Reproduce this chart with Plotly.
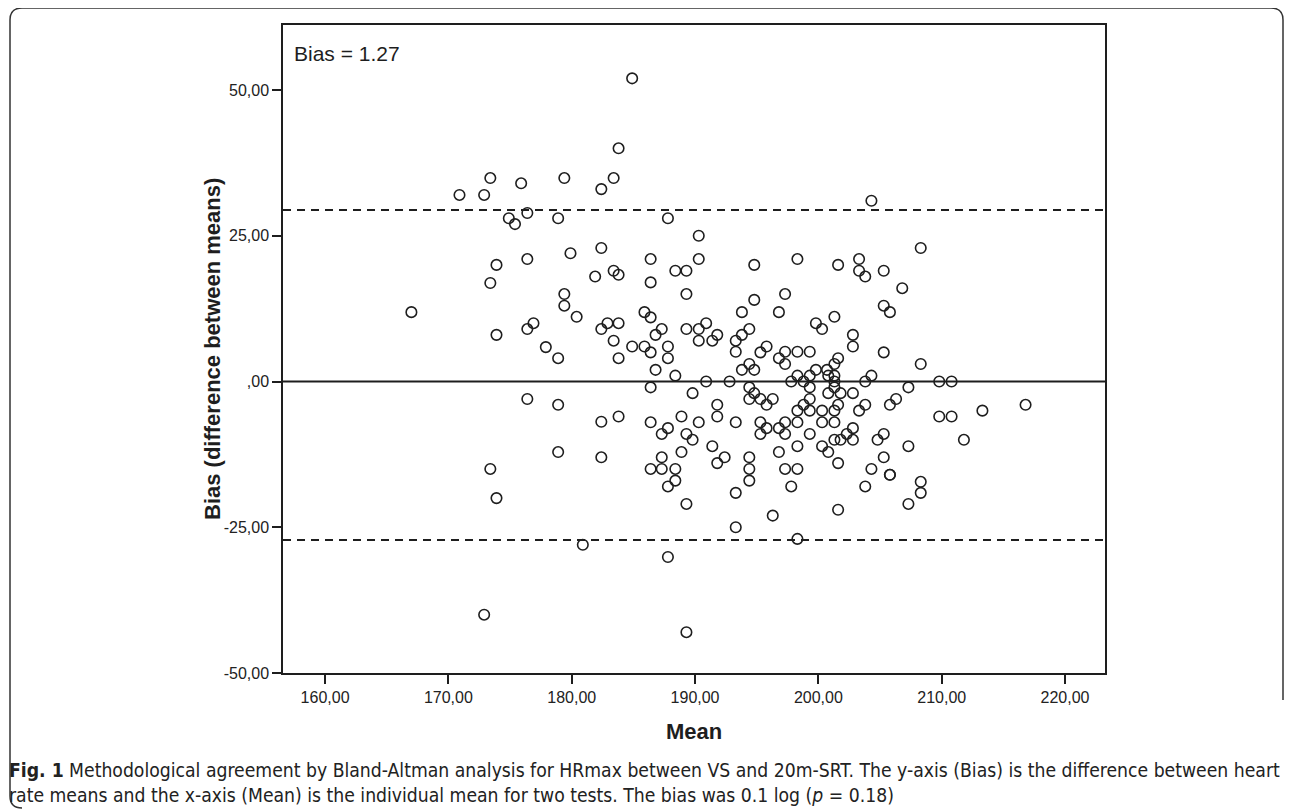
import plotly.graph_objects as go

# ---------------- data ----------------
mean_vals = [
    183.8, 173.4, 175.9, 179.4, 183.4, 182.4, 170.9, 172.9, 176.4, 174.9, 175.4, 178.9, 182.4, 179.9, 176.4, 173.9, 183.4, 181.9, 183.8,
    184.9, 187.8, 190.3, 186.4, 190.3, 194.8, 198.3, 201.6, 188.4, 189.3, 186.4,
    204.3, 208.3, 203.3, 203.3, 205.3, 203.8,
    173.4, 167.0, 179.4, 179.4, 180.4, 176.9, 176.4, 173.9, 177.9, 178.9, 182.4, 182.9, 183.8, 183.4, 183.8,
    176.4, 178.9, 182.4, 183.8, 178.9, 182.4, 173.4,
    173.9, 180.9, 172.9,
    187.8, 188.4, 189.3, 193.3, 194.4, 197.8, 196.3, 193.3, 198.3, 201.6, 187.8, 189.3,
    203.8, 205.8, 208.3, 208.3, 207.3,
    189.3, 194.8, 197.3, 185.9, 186.4, 193.8, 196.8, 199.8, 200.3, 201.3, 187.3, 186.8, 189.3, 190.9, 190.3,
    191.8, 190.3, 191.4, 194.4, 193.8, 193.3, 193.3, 184.9, 185.9, 186.4, 187.8, 187.8, 186.8, 188.4,
    195.8, 195.3, 196.8, 197.3, 197.3, 198.3, 199.3, 194.4, 193.8, 194.8, 198.3, 197.8, 198.8, 199.3,
    199.8, 200.7, 201.3, 201.6, 200.8, 201.3, 190.9, 192.8, 186.4, 189.8, 194.4, 194.8, 194.4, 195.3,
    196.3, 195.8, 199.3, 199.3, 198.8, 198.3, 199.3, 200.8, 200.3, 200.3, 201.3, 201.6, 191.8, 191.8,
    186.4, 188.9, 190.3, 193.3, 195.3, 195.8, 195.3, 196.8, 197.3, 197.3, 198.3, 199.3, 201.3, 187.3,
    187.8, 189.3, 189.8, 191.4, 188.9, 187.3, 192.4, 191.8, 194.4, 194.4, 196.8, 198.3, 200.3, 200.8,
    201.6, 186.4, 187.3, 188.4, 197.3, 198.3,
    206.8, 205.3, 205.8, 202.8, 202.8, 205.3, 208.3, 201.3, 204.3, 203.8, 209.8, 210.8, 207.3, 201.3,
    201.8, 202.8, 206.3, 205.8, 203.8, 203.3, 216.8, 213.3, 209.8, 210.8, 201.3, 202.8, 202.3, 201.8,
    202.8, 205.3, 204.8, 211.8, 207.3, 205.3, 204.3, 205.8,
]
diff_vals = [
    40.0, 34.9, 34.0, 34.9, 34.9, 33.0, 32.0, 32.0, 28.9, 28.0, 27.0, 28.0, 22.9, 22.0, 21.0, 20.0, 19.0, 18.0, 18.3,
    52.0, 28.0, 25.0, 21.0, 21.0, 20.0, 21.0, 20.0, 19.0, 19.0, 17.0,
    31.0, 22.9, 21.0, 19.0, 19.0, 18.0,
    16.9, 11.9, 15.0, 13.0, 11.1, 10.0, 9.0, 8.0, 5.9, 4.0, 9.0, 10.0, 10.0, 7.0, 4.0,
    -3.0, -4.0, -6.9, -6.0, -12.1, -13.0, -15.0,
    -20.0, -28.0, -40.0,
    -18.0, -17.0, -21.0, -19.1, -17.0, -18.0, -23.0, -25.0, -27.0, -22.0, -30.1, -43.0,
    -18.0, -16.0, -17.2, -19.1, -21.0,
    15.0, 14.0, 15.0, 11.9, 11.0, 11.9, 11.9, 10.0, 9.0, 11.1, 9.0, 8.0, 9.0, 10.0, 9.0,
    8.0, 7.0, 7.0, 9.0, 8.0, 7.0, 5.1, 6.0, 6.0, 5.0, 6.0, 4.0, 2.0, 1.0,
    6.0, 5.0, 4.0, 5.1, 3.0, 5.1, 5.1, 3.0, 2.0, 2.0, 1.0, 0.0, 0.0, 1.0,
    2.0, 2.0, 3.0, 4.0, 1.0, 0.0, 0.0, 0.0, -1.0, -2.0, -1.0, -2.0, -3.0, -3.0,
    -3.0, -4.0, -1.0, -3.0, -4.0, -5.0, -5.0, -2.0, -5.0, -7.0, -5.0, -4.0, -4.0, -6.0,
    -7.0, -6.0, -7.0, -7.0, -7.0, -8.0, -9.0, -8.0, -7.0, -9.0, -7.0, -9.0, -10.0, -9.0,
    -8.0, -9.0, -10.0, -11.1, -12.1, -13.0, -13.0, -14.0, -13.0, -15.0, -12.1, -11.1, -11.1, -12.1,
    -14.0, -15.0, -15.0, -15.0, -15.0, -15.0,
    16.0, 13.0, 11.9, 8.0, 6.0, 5.0, 3.0, 1.0, 1.0, 0.0, 0.0, 0.0, -1.0, -1.0,
    -2.0, -2.0, -3.0, -4.0, -4.0, -5.0, -4.0, -5.0, -6.0, -6.0, -7.0, -8.0, -9.0, -10.0,
    -10.0, -9.0, -10.0, -10.0, -11.1, -13.0, -15.0, -16.0,
]

upper_loa = 29.4
lower_loa = -27.2
zero_line = 0.0
bias_text = "Bias = 1.27"

x_tickvals = [160, 170, 180, 190, 200, 210, 220]
x_ticktext = ["160,00", "170,00", "180,00", "190,00", "200,00", "210,00", "220,00"]
y_tickvals = [50, 25, 0, -25, -50]
y_ticktext = ["50,00", "25,00", ",00", "-25,00", "-50,00"]

x_title = "Mean"
y_title = "Bias (difference between means)"
caption_line1 = ("<b>Fig. 1</b> Methodological agreement by Bland-Altman analysis for HRmax between VS and 20m-SRT. "
                 "The y-axis (Bias) is the difference between heart")
caption_line2 = ("rate means and the x-axis (Mean) is the individual mean for two tests. The bias was 0.1 log "
                 "(<i>p</i> = 0.18)")

# ---------------- layout geometry ----------------
# page pixels in the reference; the html body adds an 8px offset
OFF = 8
W, H = 1293 - OFF, 810 - OFF
L, R, T, B = 283 - OFF, 1105 - OFF, 25 - OFF, 673 - OFF
PW, PH = R - L, B - T


def px(x):
    return (x - OFF - L) / PW


def py(y):
    return (B - (y - OFF)) / PH


fig = go.Figure()

fig.add_trace(go.Scatter(
    x=mean_vals, y=diff_vals, mode="markers",
    marker=dict(symbol="circle-open", size=10.5, color="#1e1e1e", line=dict(width=1.6, color="#1e1e1e")),
    showlegend=False, hoverinfo="x+y",
))

fig.add_hline(y=zero_line, line=dict(color="#1e1e1e", width=2))
fig.add_hline(y=upper_loa, line=dict(color="#1e1e1e", width=2, dash="8px,6px"))
fig.add_hline(y=lower_loa, line=dict(color="#1e1e1e", width=2, dash="8px,6px"))

axis_font = dict(family="Liberation Sans, Arial, sans-serif", size=16, color="#222222")

fig.update_xaxes(
    range=[156.59, 223.24], tickvals=x_tickvals, ticktext=x_ticktext,
    ticks="outside", ticklen=9, tickwidth=1.5, tickcolor="#1e1e1e",
    showline=True, linecolor="#1e1e1e", linewidth=1.5, mirror=True,
    showgrid=False, zeroline=False, tickfont=axis_font,
)
fig.update_yaxes(
    range=[-50, 61.15], tickvals=y_tickvals, ticktext=y_ticktext,
    ticks="outside", ticklen=9, tickwidth=1.5, tickcolor="#1e1e1e",
    showline=True, linecolor="#1e1e1e", linewidth=1.5, mirror=True,
    showgrid=False, zeroline=False, tickfont=axis_font,
)

title_font = dict(family="Liberation Sans, Arial, sans-serif", size=22, color="#1e1e1e")
cap_font = dict(family="DejaVu Sans Condensed, Liberation Sans Narrow, sans-serif", size=19.2, color="#222222")

annotations = [
    dict(text=bias_text, x=px(292), y=py(54), xref="paper", yref="paper", xanchor="left", yanchor="middle",
         showarrow=False, font=dict(family="Liberation Sans, Arial, sans-serif", size=21, color="#1e1e1e")),
    dict(text="<b>" + x_title + "</b>", x=px(694), y=py(731), xref="paper", yref="paper",
         xanchor="center", yanchor="middle", showarrow=False, font=title_font),
    dict(text="<b>" + y_title + "</b>", x=px(212), y=py(349), xref="paper", yref="paper",
         xanchor="center", yanchor="middle", showarrow=False, textangle=-90, font=title_font),
    dict(text=caption_line1, x=px(7), y=py(770), xref="paper", yref="paper", xanchor="left", yanchor="middle",
         showarrow=False, font=cap_font),
    dict(text=caption_line2, x=px(7), y=py(795), xref="paper", yref="paper", xanchor="left", yanchor="middle",
         showarrow=False, font=cap_font),
]

fig.update_layout(
    width=W, height=H,
    margin=dict(l=L, r=W - R, t=T, b=H - B, autoexpand=False),
    plot_bgcolor="white", paper_bgcolor="white",
    annotations=annotations,
)

# rounded frame around figure + caption
r = 12
x0, x1, y0, y1 = 10, 1283, 8, 808
path = (f"M {px(x1)},{py(700)} L {px(x1)},{py(y0 + r)} "
        f"Q {px(x1)},{py(y0)} {px(x1 - r)},{py(y0)} "
        f"L {px(x0 + r)},{py(y0)} Q {px(x0)},{py(y0)} {px(x0)},{py(y0 + r)} "
        f"L {px(x0)},{py(y1 - r)} Q {px(x0)},{py(y1)} {px(x0 + r)},{py(y1)}")
fig.add_shape(type="path", path=path, xref="paper", yref="paper",
              line=dict(color="#333333", width=1.5), layer="below")

fig.write_html("out.html")
